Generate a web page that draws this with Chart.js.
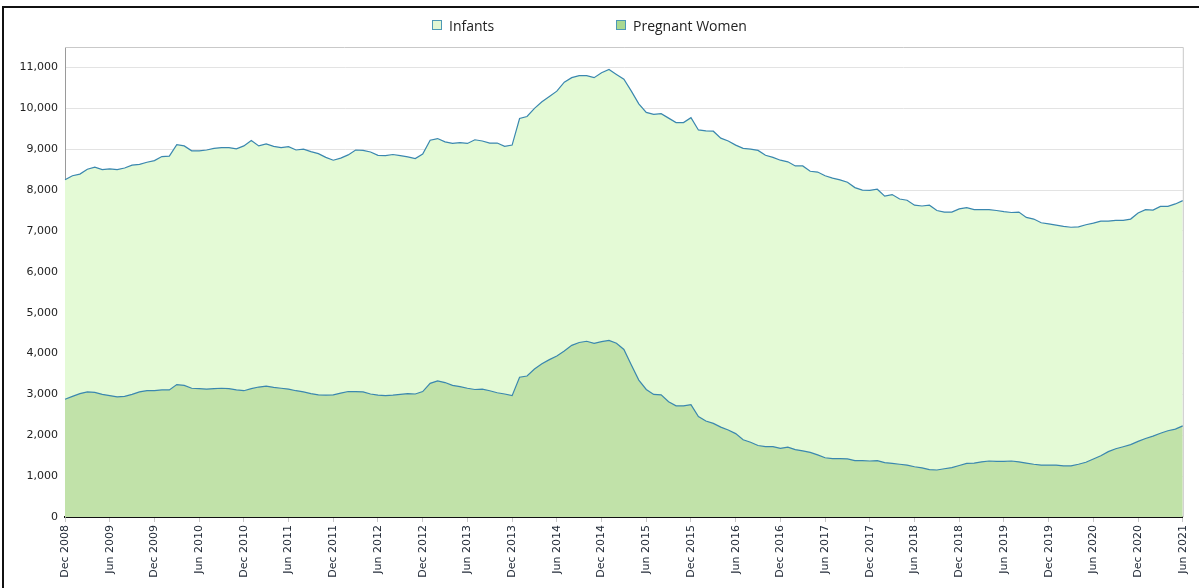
<!DOCTYPE html>
<html><head><meta charset="utf-8">
<script src="https://cdn.jsdelivr.net/npm/chart.js@4/dist/chart.umd.min.js"></script>
<style>
html,body{margin:0;padding:0;background:#fff;}
#wrap{position:relative;width:1199px;height:588px;overflow:hidden;background:#fff;}
#frame{position:absolute;left:2px;top:6px;width:1220px;height:620px;border-top:2px solid #111;border-left:2px solid #111;pointer-events:none;}
canvas{position:absolute;left:0;top:0;}
#legend{position:absolute;top:16px;left:0;width:1199px;height:20px;font-family:"Open Sans",sans-serif;font-size:14px;color:#222;}
.item{position:absolute;top:0;height:18px;display:flex;align-items:center;white-space:nowrap;}
.box{width:8px;height:8px;margin-right:7px;border:1px solid #4d98b5;}
</style>
</head><body>
<div id="wrap">
<canvas id="c" width="1199" height="588"></canvas>
<div id="frame"></div>
<div id="legend">
  <div class="item" style="left:432px"><span class="box" style="background:#e2f7d3"></span><span>Infants</span></div>
  <div class="item" style="left:616px"><span class="box" style="background:#a9d890"></span><span>Pregnant Women</span></div>
</div>
</div>
<script>
// Categories: monthly, Dec 2008 .. Jun 2021
const MONTH_NAMES = ['Jan','Feb','Mar','Apr','May','Jun','Jul','Aug','Sep','Oct','Nov','Dec'];
const START_YEAR = 2008, START_MONTH = 11, N_MONTHS = 151;
const months = [];
for (let k = 0; k < N_MONTHS; k++) {
  const m = (START_MONTH + k) % 12, y = START_YEAR + Math.floor((START_MONTH + k) / 12);
  months.push(MONTH_NAMES[m] + ' ' + y);
}

// Tick labels shown on the x axis
const tickLabels = ['Dec 2008','Jun 2009','Dec 2009','Jun 2010','Dec 2010','Jun 2011','Dec 2011','Jun 2012',
  'Dec 2012','Jun 2013','Dec 2013','Jun 2014','Dec 2014','Jun 2015','Dec 2015','Jun 2016','Dec 2016','Jun 2017',
  'Dec 2017','Jun 2018','Dec 2018','Jun 2019','Dec 2019','Jun 2020','Dec 2020','Jun 2021'];

// Y tick values
const yTicks = [0,1000,2000,3000,4000,5000,6000,7000,8000,9000,10000,11000];

// Series values
const infants = [
  8250,8350,8390,8510,8560,8500,8520,8500,8540,8610,
  8630,8680,8720,8820,8830,9110,9080,8960,8960,8980,
  9020,9040,9040,9010,9080,9210,9080,9130,9070,9040,
  9060,8980,9000,8940,8890,8800,8730,8780,8860,8980,
  8970,8930,8850,8840,8870,8840,8810,8770,8880,9220,
  9260,9180,9140,9160,9140,9230,9200,9150,9150,9070,
  9100,9750,9800,10000,10160,10290,10420,10640,10750,10800,
  10800,10750,10870,10950,10830,10710,10420,10110,9900,9850,
  9870,9760,9650,9650,9770,9470,9450,9440,9270,9200,
  9100,9020,9000,8970,8850,8800,8730,8690,8590,8590,
  8460,8440,8350,8290,8250,8190,8060,8000,7990,8020,
  7850,7890,7780,7750,7630,7610,7630,7500,7460,7460,
  7540,7570,7520,7520,7520,7500,7470,7450,7460,7330,
  7290,7200,7170,7140,7110,7090,7100,7150,7190,7240,
  7240,7260,7260,7290,7440,7520,7510,7600,7600,7660,
  7740
];
const pregnant = [
  2880,2950,3020,3060,3050,3000,2970,2940,2950,3000,
  3060,3090,3090,3110,3110,3240,3220,3150,3140,3130,
  3140,3150,3140,3110,3090,3140,3180,3200,3170,3150,
  3130,3090,3060,3020,2990,2980,2990,3030,3070,3070,
  3060,3010,2980,2970,2980,3000,3020,3010,3070,3270,
  3330,3290,3220,3190,3150,3120,3130,3090,3040,3010,
  2970,3420,3450,3620,3750,3850,3940,4060,4200,4270,
  4300,4250,4290,4320,4250,4100,3720,3350,3120,3000,
  2990,2820,2720,2720,2750,2460,2350,2290,2200,2130,
  2040,1890,1830,1750,1720,1720,1680,1710,1650,1620,
  1580,1520,1450,1430,1430,1420,1380,1380,1370,1380,
  1330,1310,1290,1270,1230,1200,1160,1150,1180,1210,
  1260,1310,1320,1350,1370,1360,1360,1370,1350,1320,
  1290,1270,1270,1270,1250,1250,1290,1340,1420,1500,
  1600,1670,1720,1770,1850,1920,1980,2050,2110,2150,
  2230
];

const areaFrame = {
  id: 'areaFrame',
  afterDraw(chart) {
    const {ctx, chartArea: a} = chart;
    ctx.save();
    ctx.strokeStyle = '#c9c9c9';
    ctx.lineWidth = 1;
    ctx.beginPath();
    ctx.moveTo(a.left, a.top + 0.5);
    ctx.lineTo(a.right + 0.5, a.top + 0.5);
    ctx.lineTo(a.right + 0.5, a.bottom);
    ctx.stroke();
    ctx.restore();
  }
};

new Chart(document.getElementById('c'), {
  type: 'line',
  data: {
    labels: months,
    datasets: [
      {label: 'Infants', data: infants, fill: 'origin', backgroundColor: '#e4fad6',
       borderColor: '#3a87af', borderWidth: 1.2, pointRadius: 0, tension: 0, order: 2},
      {label: 'Pregnant Women', data: pregnant, fill: 'origin', backgroundColor: '#c1e2a9',
       borderColor: '#3a87af', borderWidth: 1.2, pointRadius: 0, tension: 0, order: 1}
    ]
  },
  options: {
    responsive: false, animation: false, devicePixelRatio: 1,
    layout: {padding: {top: 47, right: 16, left: 0, bottom: 0}},
    plugins: {legend: {display: false}, tooltip: {enabled: false}},
    scales: {
      x: {
        type: 'category', offset: false,
        grid: {display: true, drawOnChartArea: false, drawTicks: true, tickLength: 5, color: '#c8c8c8'},
        border: {color: '#111', width: 2},
        ticks: {
          autoSkip: false, maxRotation: 90, minRotation: 90, padding: 3, color: '#1d2633',
          font: {family: 'DejaVu Sans', size: 11},
          callback(v) { const l = this.getLabelForValue(v); return tickLabels.includes(l) ? l : null; }
        },
        afterFit(s) { s.height = 71; }
      },
      y: {
        min: 0, max: 11500,
        afterBuildTicks(s) { s.ticks = yTicks.map(v => ({value: v})); },
        ticks: {padding: 7, color: '#222', autoSkip: false,
          font: {family: 'DejaVu Sans', size: 11},
          callback: v => v.toLocaleString('en-US')},
        grid: {color: '#e3e3e3', drawTicks: false},
        border: {color: '#9a9a9a', width: 1},
        afterFit(s) { s.width = 65; }
      }
    }
  },
  plugins: [areaFrame]
});
</script>
</body></html>
